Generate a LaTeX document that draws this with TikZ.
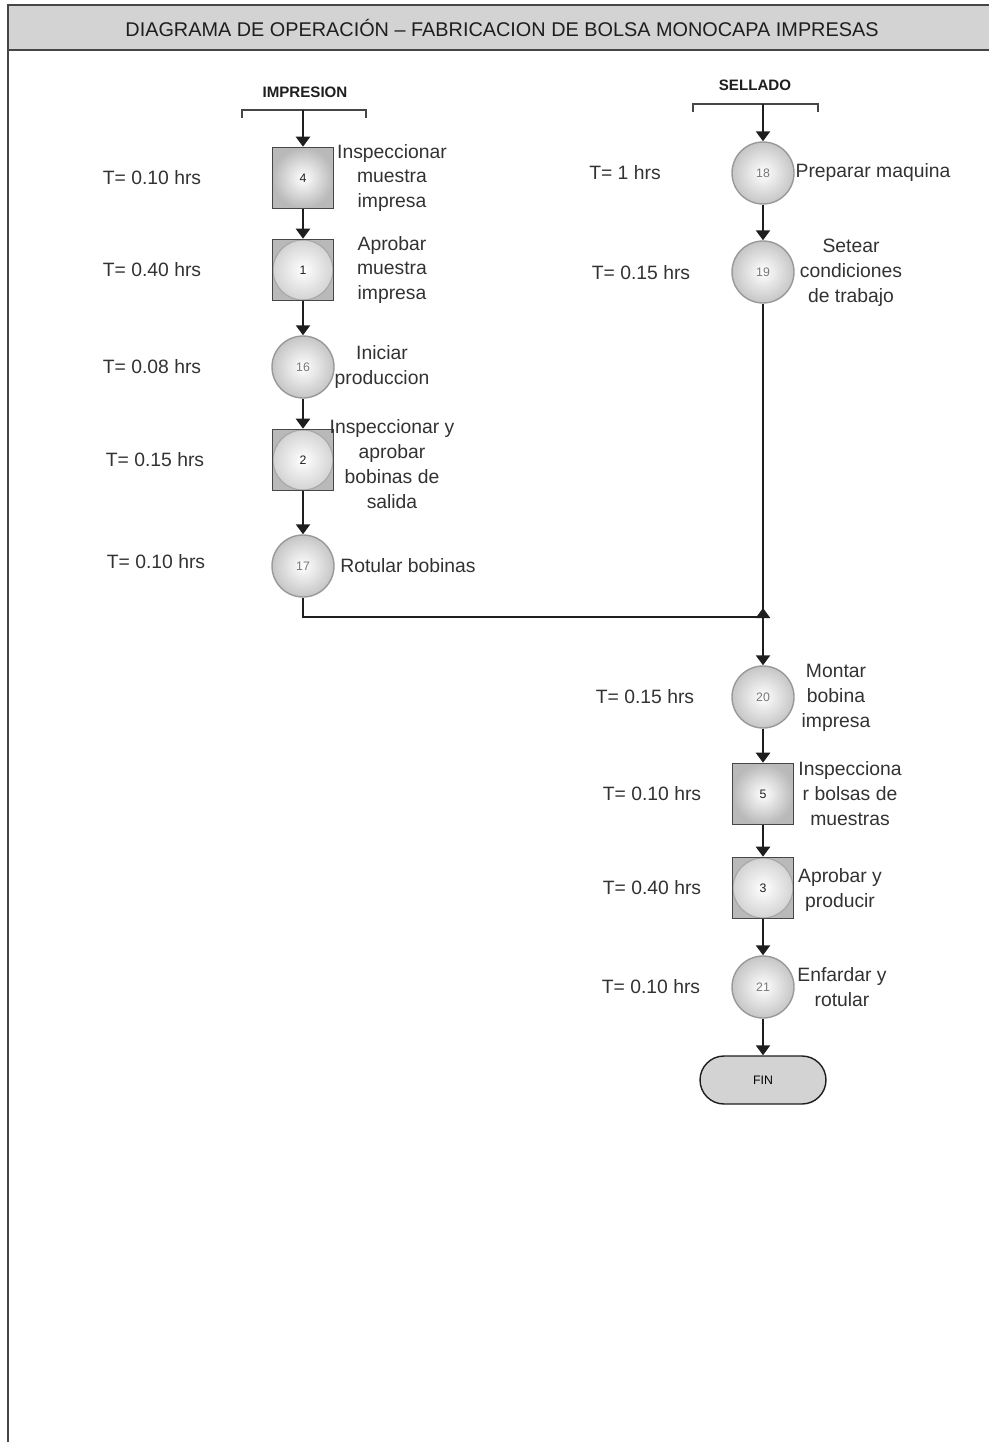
\documentclass[tikz,border=0pt]{standalone}
\usepackage{fontspec}
\setmainfont{Liberation Sans}
\usepackage{tikz}
\usetikzlibrary{arrows.meta, positioning, calc}
\definecolor{mydark}{RGB}{30,30,30}
\definecolor{mytext}{RGB}{50,50,50}
\definecolor{myframe}{RGB}{70,70,70}
\definecolor{hdrgray}{RGB}{211,211,211}
\definecolor{mynum}{RGB}{120,120,120}
\tikzset{
  oper/.style={circle, draw=gray!80, line width=0.8pt,
    inner color=white, outer color=gray!45,
    minimum size=1.24cm, inner sep=0pt, font=\fontsize{7}{8}\selectfont, text=mynum},
  insp/.style={rectangle, draw=myframe, line width=0.9pt,
    inner color=white, outer color=gray!55,
    minimum size=1.22cm, inner sep=0pt, font=\fontsize{7}{8}\selectfont, text=mydark},
  combo/.style={insp, path picture={
    \shadedraw[inner color=white, outer color=gray!35, draw=gray!70, line width=0.6pt]
      (path picture bounding box.center) circle (0.6cm);}},
  fin/.style={rectangle, rounded corners=0.48cm, draw=mydark, line width=0.8pt,
    fill=hdrgray, minimum width=2.52cm, minimum height=0.96cm,
    font=\fontsize{7}{8}\selectfont},
  lbl/.style={align=center, text=mytext, font=\fontsize{11}{14.2}\selectfont, inner sep=0pt},
  tlbl/.style={text=mytext, font=\fontsize{11}{13}\selectfont, inner sep=0pt},
  hdr/.style={font=\bfseries\fontsize{8.6}{10}\selectfont, text=mydark, inner sep=0pt},
  flow/.style={-{Triangle[width=0.28cm,length=0.2cm]}, line width=1.3pt, color=mydark},
  line/.style={line width=1.3pt, color=mydark},
  brace/.style={line width=0.8pt, color=myframe}
}
\begin{document}
\begin{tikzpicture}[x=0.02cm, y=-0.02cm]
  \useasboundingbox (0,0) rectangle (988,1442);

  % Frame and title
  \draw[draw=myframe, line width=1.2pt, fill=hdrgray] (8,5) rectangle (1000,50);
  \draw[draw=myframe, line width=1.2pt] (8,50) -- (8,1450);
  \node[font=\fontsize{11.3}{13}\selectfont, text=mydark] (title) at (502,28)
    {DIAGRAMA DE OPERACIÓN – FABRICACION DE BOLSA MONOCAPA IMPRESAS};

  % Impresion column
  \node[hdr] (himp) at (305,92) {IMPRESION};
  \draw[brace] (242,118) -- (242,110) -- (366,110) -- (366,118);
  \coordinate (bimp) at (303,110);

  \node[insp]  (n4)  at (303,178) {4};
  \node[combo] (n1)  at (303,270) {1};
  \node[oper]  (n16) at (303,367) {16};
  \node[combo] (n2)  at (303,460) {2};
  \node[oper]  (n17) at (303,566) {17};

  \node[lbl] (l4)  at (392,178) {Inspeccionar\\muestra\\impresa};
  \node[lbl] (l1)  at (392,270) {Aprobar\\muestra\\impresa};
  \node[lbl] (l16) at (382,367) {Iniciar\\produccion};
  \node[lbl] (l2)  at (392,464) {Inspeccionar y\\aprobar\\bobinas de\\salida};
  \node[lbl] (l17) at (408,566) {Rotular bobinas};

  \node[tlbl] (t4)  at (152,178) {T= 0.10 hrs};
  \node[tlbl] (t1)  at (152,270) {T= 0.40 hrs};
  \node[tlbl] (t16) at (152,367) {T= 0.08 hrs};
  \node[tlbl] (t2)  at (155,460) {T= 0.15 hrs};
  \node[tlbl] (t17) at (156,562) {T= 0.10 hrs};

  \draw[flow] (bimp) -- (n4);
  \draw[flow] (n4) -- (n1);
  \draw[flow] (n1) -- (n16);
  \draw[flow] (n16) -- (n2);
  \draw[flow] (n2) -- (n17);

  % Sellado column
  \node[hdr] (hsel) at (755,85) {SELLADO};
  \draw[brace] (693,112) -- (693,104) -- (818,104) -- (818,112);
  \coordinate (bsel) at (763,104);

  \node[oper]  (n18) at (763,173) {18};
  \node[oper]  (n19) at (763,272) {19};
  \node[oper]  (n20) at (763,697) {20};
  \node[insp]  (n5)  at (763,794) {5};
  \node[combo] (n3)  at (763,888) {3};
  \node[oper]  (n21) at (763,987) {21};
  \node[fin]   (fin) at (763,1080) {FIN};

  \node[lbl] (l18) at (873,173) {Preparar maquina};
  \node[lbl] (l19) at (851,273) {Setear\\condiciones\\de trabajo};
  \node[lbl] (l20) at (836,698) {Montar\\bobina\\impresa};
  \node[lbl] (l5)  at (850,794) {Inspecciona\\r bolsas de\\muestras};
  \node[lbl] (l3)  at (840,890) {Aprobar y\\producir};
  \node[lbl] (l21) at (842,987) {Enfardar y\\rotular};

  \node[tlbl] (t18) at (625,173) {T= 1 hrs};
  \node[tlbl] (t19) at (641,273) {T= 0.15 hrs};
  \node[tlbl] (t20) at (645,697) {T= 0.15 hrs};
  \node[tlbl] (t5)  at (652,794) {T= 0.10 hrs};
  \node[tlbl] (t3)  at (652,888) {T= 0.40 hrs};
  \node[tlbl] (t21) at (651,987) {T= 0.10 hrs};

  \draw[flow] (bsel) -- (n18);
  \draw[flow] (n18) -- (n19);
  \draw[flow] (n19) -- (n20);
  \draw[flow] (n20) -- (n5);
  \draw[flow] (n5) -- (n3);
  \draw[flow] (n3) -- (n21);
  \draw[flow] (n21) -- (fin);

  % Join of both lines
  \coordinate (jn) at (763,617);
  \draw[line] (n17) |- (jn);
  \draw[flow] (jn) -- ++(0,-9);
\end{tikzpicture}
\end{document}
